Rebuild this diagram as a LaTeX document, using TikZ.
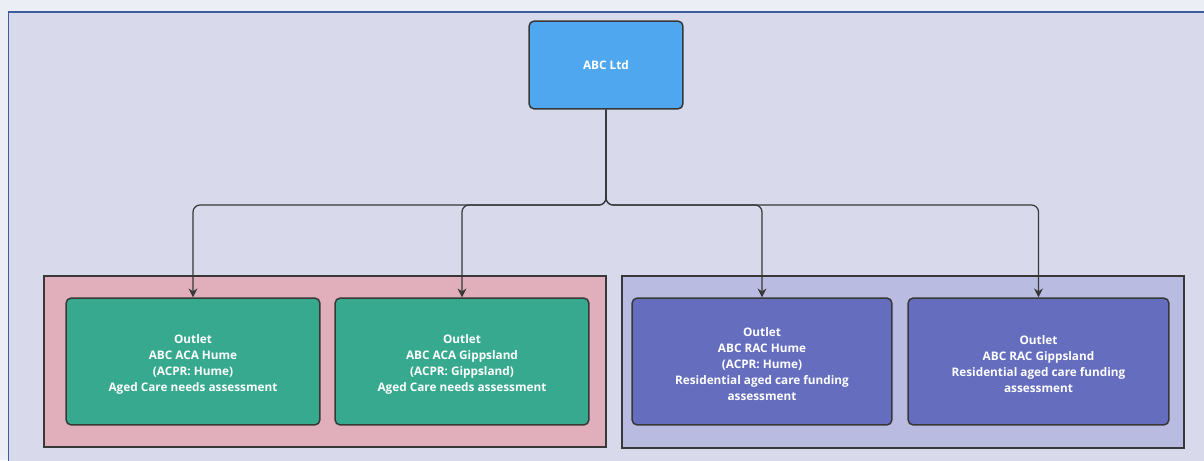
\documentclass[tikz,border=0pt]{standalone}
\usepackage{fontspec}
\setmainfont{Open Sans}
\usepackage{tikz}
\usetikzlibrary{positioning,arrows.meta}
\definecolor{pagebg}{HTML}{EBEEF5}
\definecolor{canvas}{HTML}{D8D9EB}
\definecolor{framec}{HTML}{3D5E9E}
\definecolor{rootc}{HTML}{4FA8EF}
\definecolor{acac}{HTML}{36A98F}
\definecolor{racc}{HTML}{646DBE}
\definecolor{pinkc}{HTML}{E0AFBB}
\definecolor{lavc}{HTML}{B9BCE0}
\definecolor{edgec}{HTML}{383838}
\tikzset{
  orgbox/.style={draw=edgec, line width=0.85pt, rounded corners=3pt, text=white,
    font=\bfseries\fontsize{6.7}{9.1}\selectfont, align=center,
    minimum width=5.08cm, minimum height=2.54cm},
  conn/.style={draw=edgec, line width=0.7pt, rounded corners=4pt,
    -{Stealth[length=5pt,width=5pt]}},
}
\begin{document}
\begin{tikzpicture}[x=0.02cm,y=-0.02cm]
\useasboundingbox[fill=pagebg] (0,0) rectangle (1204,460);
\clip (0,0) rectangle (1204,460);
% canvas
\draw[framec, line width=1.1pt, fill=canvas] (8.5,12) rectangle (1230,490);
% groups
\draw[edgec, line width=0.85pt, fill=pinkc] (44,276) rectangle (606,447);
\draw[edgec, line width=0.85pt, fill=lavc] (622,276) rectangle (1184,448);
% nodes
\node[orgbox, fill=rootc, minimum width=3.08cm, minimum height=1.76cm] (root) at (606,65) {ABC Ltd};
\node[orgbox, fill=acac] (acahume) at (193,361.5) {\rule{0pt}{8pt}Outlet\\ABC ACA Hume\\(ACPR: Hume)\\Aged Care needs assessment};
\node[orgbox, fill=acac] (acagipp) at (462,361.5) {\rule{0pt}{8pt}Outlet\\ABC ACA Gippsland\\(ACPR: Gippsland)\\Aged Care needs assessment};
\node[orgbox, fill=racc, minimum width=5.2cm] (rachume) at (762,361.5) {\rule{0pt}{8pt}Outlet\\ABC RAC Hume\\(ACPR: Hume)\\Residential aged care funding\\assessment};
\node[orgbox, fill=racc, minimum width=5.22cm] (racgipp) at (1038.5,361.5) {\rule{0pt}{8pt}Outlet\\ABC RAC Gippsland\\Residential aged care funding\\assessment};
% connectors
\coordinate (hub) at (606,205);
\draw[conn] (root.south) -- (hub) -| (acahume.north);
\draw[conn] (root.south) -- (hub) -| (acagipp.north);
\draw[conn] (root.south) -- (hub) -| (rachume.north);
\draw[conn] (root.south) -- (hub) -| (racgipp.north);
\end{tikzpicture}
\end{document}
